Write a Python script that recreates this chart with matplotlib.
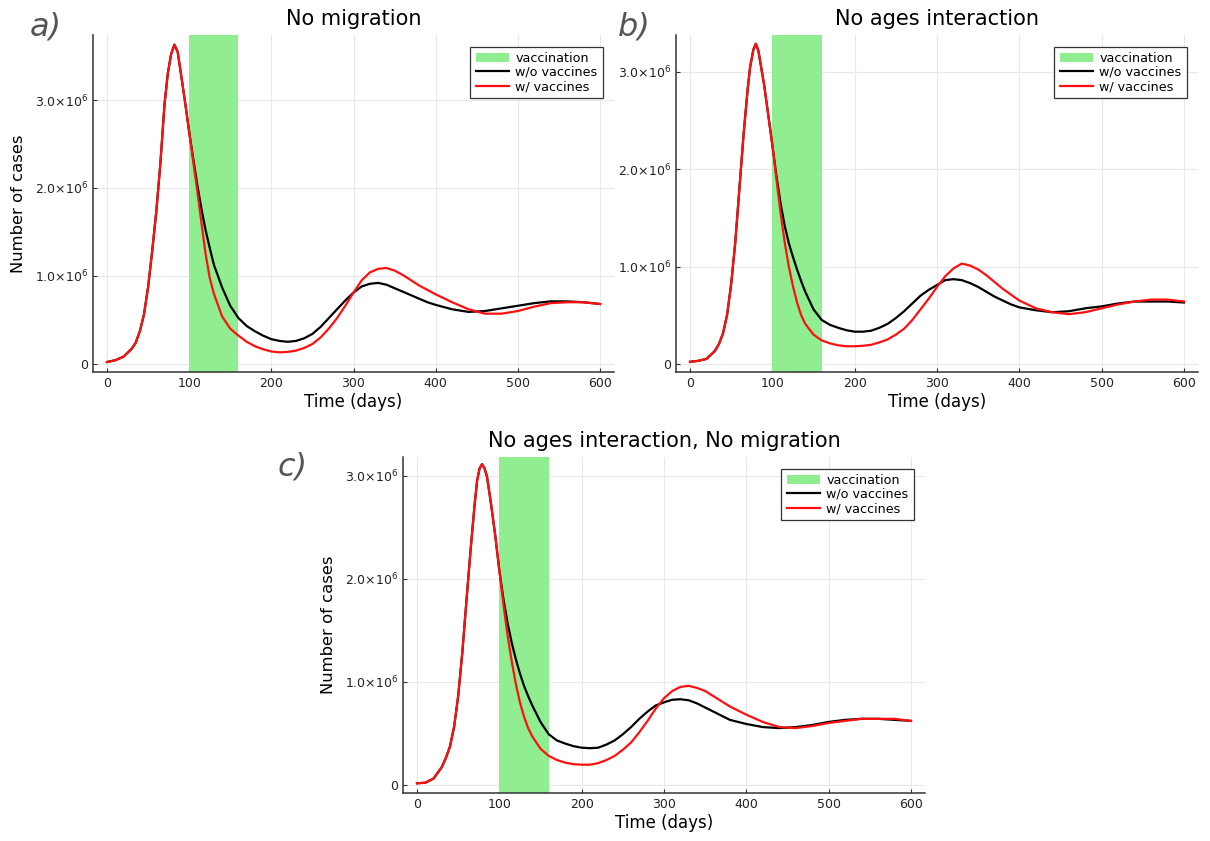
import numpy as np
import matplotlib
matplotlib.use("Agg")
from matplotlib import pyplot as plt

plt.rcParams['mathtext.default'] = 'regular'

# ---- panel a) No migration (values in millions of cases)
days_a = [0, 10, 20, 30, 35, 40, 45, 50, 55, 60, 65, 70, 74, 78, 82, 86, 90, 95, 100, 105,
          110, 115, 120, 125, 130, 140, 150, 160, 170, 180, 190, 200, 210, 220, 230, 240,
          250, 260, 270, 280, 290, 300, 310, 320, 330, 340, 350, 360, 370, 380, 390, 400,
          420, 440, 460, 480, 500, 520, 540, 560, 580, 600]
red_a = [0.02, 0.04, 0.08, 0.17, 0.24, 0.37, 0.56, 0.87, 1.28, 1.73, 2.28, 2.95, 3.30, 3.52,
         3.63, 3.55, 3.30, 2.98, 2.64, 2.30, 1.96, 1.60, 1.25, 0.98, 0.80, 0.54, 0.40, 0.32,
         0.25, 0.20, 0.165, 0.14, 0.13, 0.135, 0.15, 0.18, 0.225, 0.30, 0.40, 0.52, 0.66, 0.81,
         0.95, 1.04, 1.08, 1.09, 1.06, 1.01, 0.95, 0.89, 0.84, 0.79, 0.70, 0.62, 0.57, 0.57,
         0.60, 0.65, 0.69, 0.70, 0.70, 0.68]
black_a = [0.02, 0.04, 0.08, 0.17, 0.24, 0.37, 0.56, 0.87, 1.28, 1.73, 2.28, 2.95, 3.30, 3.52,
           3.63, 3.55, 3.30, 2.98, 2.64, 2.33, 2.03, 1.76, 1.52, 1.32, 1.13, 0.87, 0.66, 0.52,
           0.43, 0.37, 0.32, 0.28, 0.26, 0.25, 0.26, 0.29, 0.34, 0.42, 0.52, 0.62, 0.72, 0.81,
           0.88, 0.91, 0.92, 0.90, 0.86, 0.82, 0.78, 0.74, 0.70, 0.67, 0.62, 0.59, 0.60, 0.63,
           0.66, 0.69, 0.71, 0.71, 0.70, 0.68]

# ---- panel b) No ages interaction
days_b = [0, 10, 20, 30, 35, 40, 45, 50, 55, 60, 65, 70, 73, 77, 80, 83, 87, 90, 95, 100,
          105, 110, 115, 120, 125, 130, 135, 140, 150, 160, 170, 180, 190, 200, 210, 220,
          230, 240, 250, 260, 270, 280, 290, 300, 310, 320, 330, 340, 350, 360, 370, 380,
          390, 400, 420, 440, 460, 480, 500, 520, 540, 560, 580, 600]
red_b = [0.02, 0.03, 0.05, 0.13, 0.20, 0.31, 0.50, 0.82, 1.25, 1.80, 2.35, 2.82, 3.05, 3.23,
         3.29, 3.22, 3.02, 2.87, 2.56, 2.25, 1.90, 1.55, 1.25, 1.00, 0.80, 0.63, 0.50, 0.41,
         0.30, 0.24, 0.21, 0.19, 0.18, 0.18, 0.185, 0.195, 0.22, 0.25, 0.30, 0.36, 0.45, 0.56,
         0.67, 0.79, 0.90, 0.98, 1.03, 1.01, 0.97, 0.91, 0.84, 0.77, 0.71, 0.65, 0.57, 0.53,
         0.51, 0.53, 0.57, 0.61, 0.64, 0.66, 0.66, 0.64]
black_b = [0.02, 0.03, 0.05, 0.13, 0.20, 0.31, 0.50, 0.82, 1.25, 1.80, 2.35, 2.82, 3.05, 3.23,
           3.29, 3.22, 3.02, 2.87, 2.56, 2.25, 1.93, 1.65, 1.42, 1.24, 1.10, 0.97, 0.85, 0.74,
           0.56, 0.45, 0.40, 0.37, 0.345, 0.33, 0.33, 0.34, 0.37, 0.41, 0.47, 0.54, 0.62, 0.70,
           0.76, 0.81, 0.86, 0.87, 0.86, 0.83, 0.79, 0.74, 0.69, 0.65, 0.61, 0.58, 0.55, 0.53,
           0.54, 0.57, 0.59, 0.62, 0.64, 0.64, 0.64, 0.63]

# ---- panel c) No ages interaction, No migration
days_c = [0, 10, 20, 30, 35, 40, 45, 50, 55, 60, 65, 70, 73, 76, 79, 82, 85, 90, 95, 100,
          105, 110, 115, 120, 125, 130, 135, 140, 150, 160, 170, 180, 190, 200, 210, 220,
          230, 240, 250, 260, 270, 280, 290, 300, 310, 320, 330, 340, 350, 360, 370, 380,
          390, 400, 420, 440, 460, 480, 500, 520, 540, 560, 580, 600]
red_c = [0.015, 0.02, 0.06, 0.17, 0.26, 0.37, 0.56, 0.86, 1.28, 1.78, 2.27, 2.72, 2.95, 3.07,
         3.11, 3.07, 2.99, 2.72, 2.42, 2.08, 1.75, 1.45, 1.20, 0.98, 0.80, 0.66, 0.55, 0.47,
         0.35, 0.28, 0.24, 0.215, 0.20, 0.195, 0.195, 0.21, 0.24, 0.28, 0.34, 0.41, 0.51, 0.62,
         0.74, 0.84, 0.91, 0.95, 0.96, 0.94, 0.91, 0.86, 0.81, 0.76, 0.72, 0.68, 0.61, 0.56,
         0.55, 0.57, 0.60, 0.62, 0.64, 0.64, 0.64, 0.62]
black_c = [0.015, 0.02, 0.06, 0.17, 0.26, 0.37, 0.56, 0.86, 1.28, 1.78, 2.27, 2.72, 2.95, 3.07,
           3.11, 3.07, 2.99, 2.72, 2.42, 2.08, 1.80, 1.57, 1.38, 1.22, 1.08, 0.96, 0.86, 0.77,
           0.61, 0.49, 0.43, 0.40, 0.375, 0.36, 0.355, 0.36, 0.39, 0.43, 0.49, 0.56, 0.64, 0.71,
           0.77, 0.80, 0.825, 0.83, 0.82, 0.79, 0.75, 0.71, 0.67, 0.63, 0.61, 0.59, 0.56, 0.55,
           0.56, 0.58, 0.61, 0.63, 0.64, 0.64, 0.63, 0.62]

vacc_start, vacc_end = 100, 160
yticks = [0, 1e6, 2e6, 3e6]
ytick_labels = ['0', r'$1.0{\times}10^{6}$', r'$2.0{\times}10^{6}$', r'$3.0{\times}10^{6}$']
xticks = [0, 100, 200, 300, 400, 500, 600]

W, H = 1210, 841
fig = plt.figure(figsize=(W / 100, H / 100), dpi=100)


def box(left, top, right, bottom):
    return [left / W, 1 - bottom / H, (right - left) / W, (bottom - top) / H]


def panel(rect, days, red, black, title, ymax, ylabel, letter, lpos):
    ax = fig.add_axes(rect)
    ax.axvspan(vacc_start, vacc_end, color='#90ee90', lw=0, label='vaccination', zorder=1)
    d = np.array(days)
    ax.plot(d, np.array(black) * 1e6, color='black', lw=1.6, label='w/o vaccines', zorder=3)
    ax.plot(d, np.array(red) * 1e6, color='#ff1010', lw=1.6, label='w/ vaccines', zorder=4)
    ax.set_xlim(-17, 617)
    ax.set_ylim(-0.085e6 * ymax / 3.4, ymax * 1e6)
    ax.set_xticks(xticks)
    ax.set_yticks(yticks)
    ax.set_yticklabels(ytick_labels)
    ax.grid(True, color='#e8e8e8', lw=0.8, zorder=0)
    ax.set_axisbelow(True)
    for s in ['top', 'right']:
        ax.spines[s].set_visible(False)
    for s in ['left', 'bottom']:
        ax.spines[s].set_color('#333333')
        ax.spines[s].set_linewidth(1.1)
    ax.tick_params(direction='in', length=3, width=0.8, colors='#333333', labelsize=9,
                   labelcolor='#222222')
    ax.set_xlabel('Time (days)', fontsize=12, labelpad=2)
    if ylabel:
        ax.set_ylabel('Number of cases', fontsize=11.8, labelpad=6)
    ax.set_title(title, fontsize=15, pad=7)
    leg = ax.legend(loc='upper right', fontsize=9.2, fancybox=False, framealpha=1,
                    edgecolor='#333333', borderaxespad=0.9, handlelength=2.6,
                    handletextpad=0.5, labelspacing=0.1, borderpad=0.4)
    leg.get_frame().set_linewidth(0.9)
    fig.text(lpos[0] / W, 1 - lpos[1] / H, letter, fontsize=23, style='italic',
             color='#555555', ha='center', va='center')
    return ax


panel(box(93, 35, 614, 372), days_a, red_a, black_a, 'No migration', 3.74, True, 'a)', (46, 27))
panel(box(676, 35, 1198, 372), days_b, red_b, black_b, 'No ages interaction', 3.38, False,
      'b)', (634, 27))
panel(box(403, 457, 925, 793), days_c, red_c, black_c, 'No ages interaction, No migration',
      3.18, True, 'c)', (293, 467))

plt.savefig('out.png', dpi=100)
